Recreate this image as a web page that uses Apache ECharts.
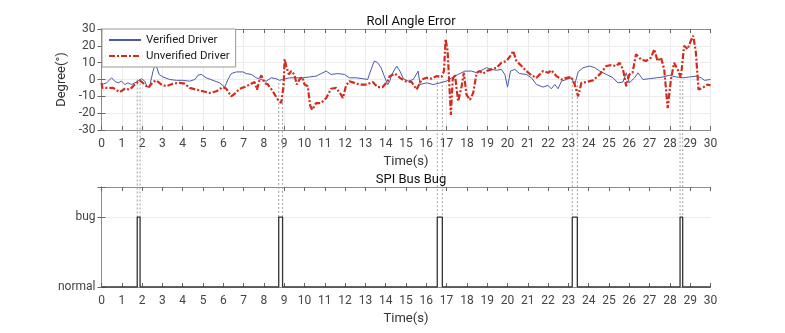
<!DOCTYPE html>
<html>
<head>
  <meta charset="UTF-8" />
  <title>Roll Angle Error / SPI Bus Bug</title>
  <script src="https://cdn.jsdelivr.net/npm/echarts@6/dist/echarts.min.js"></script>
  <style>
    html, body { margin: 0; height: 100%; background: #fff; }
    #chart { width: 785px; height: 333px; }
  </style>
</head>
<body>
  <div id="chart"></div>
  <script>
    // roll angle error, [time s, degree]
    const verified = [
      [0, -3], [0.25, -2], [0.5, 1], [0.65, -1], [0.82, -2], [0.98, -1], [1.15, -3], [1.3, -2],
      [1.48, -3], [1.72, -1.5], [1.97, 0.5], [2.13, -1], [2.25, -4.5], [2.38, -3.5], [2.54, 5],
      [2.66, 9.5], [2.74, 9], [2.84, 3], [3.03, 1.5], [3.36, 0], [3.69, -0.5], [4.0, -0.5],
      [4.34, -1], [4.6, 0], [4.75, 2.5], [4.92, 3], [5.16, 1], [5.49, -0.5], [5.82, -2],
      [6.07, -4.5], [6.23, 0], [6.39, 3.5], [6.64, 4.5], [6.97, 4.5], [7.13, 3.5], [7.38, 3],
      [7.62, 1], [7.87, 0], [8.11, -1], [8.36, 1], [8.6, 0.5], [8.77, -0.5], [8.93, 0],
      [9.26, 1], [9.59, 1], [9.92, 1], [10.25, 1.5], [10.57, 2], [10.82, 3.5], [11.07, 5],
      [11.31, 3], [11.64, 3.5], [11.97, 3], [12.21, 1], [12.54, 1], [12.87, 0.5], [13.11, 0],
      [13.28, 6], [13.44, 11], [13.6, 10], [13.77, 7], [13.93, 2], [14.1, -3], [14.2, -1],
      [14.3, 3], [14.54, 8], [14.7, 5], [14.87, 0.5], [15.11, -1], [15.36, 0], [15.6, 5],
      [15.69, -3], [16.02, -2], [16.34, -3], [16.67, -2], [17.0, -1], [17.25, 1], [17.57, 3],
      [17.9, 5], [18.23, 5], [18.48, 4], [18.72, 5.5], [18.97, 7], [19.21, 6], [19.46, 5.5],
      [19.7, 6], [19.87, 3], [20.0, -4.5], [20.15, 5], [20.36, 6], [20.6, 3.5], [20.93, 3],
      [21.18, 1], [21.43, -3], [21.75, -4.5], [22.0, -3.5], [22.16, -5.5], [22.33, -3],
      [22.49, -5.5], [22.66, -1], [22.9, 0], [23.15, 1], [23.31, -3], [23.48, 4.5], [23.72, 7],
      [24.05, 8], [24.3, 7], [24.54, 5], [24.87, 3], [25.2, 1], [25.44, -2], [25.69, -1.5],
      [25.85, 4], [26.0, -2], [26.26, 1], [26.43, 4], [26.67, 0], [27.0, 0.5], [27.33, 1],
      [27.66, 1.5], [27.98, 2.5], [28.31, 1.5], [28.64, 1], [28.97, 1.5], [29.3, 2], [29.54, 1],
      [29.7, -0.5], [30, 0]
    ];
    const unverified = [
      [0, -2], [0.05, -5], [0.25, -5], [0.57, -5], [0.9, -7.5], [1.15, -5.5], [1.39, -6],
      [1.64, -3], [1.89, -0.5], [2.13, -3], [2.3, -5], [2.54, -1.5], [2.7, -0.5], [2.95, -3],
      [3.2, -4], [3.52, -2.5], [3.85, -2], [4.1, -2.5], [4.34, -5], [4.67, -6], [5.0, -7],
      [5.33, -8], [5.66, -7], [5.98, -4.5], [6.15, -5.5], [6.39, -10], [6.56, -8.5], [6.8, -5.5],
      [7.05, -4.5], [7.3, -3], [7.54, -1.5], [7.66, -6], [7.79, 0], [7.87, 2.5], [8.03, -2],
      [8.2, -3], [8.44, -7], [8.69, -12], [8.85, -14], [8.97, -4], [9.02, 12], [9.1, 8],
      [9.23, 3], [9.34, 5], [9.5, 3], [9.62, -3], [9.75, 0], [9.89, 1.5], [10.0, -3],
      [10.16, -4], [10.28, -15.5], [10.38, -18], [10.57, -14], [10.82, -14], [11.07, -11],
      [11.31, -5.5], [11.56, -5], [11.8, -9], [11.89, -11], [12.05, -3.5], [12.21, -1],
      [12.46, -2], [12.7, -3], [13.03, -3], [13.36, -1.5], [13.6, -4.5], [13.85, -4.5],
      [14.1, -1], [14.2, 2], [14.46, 3.5], [14.7, 1], [14.95, -1], [15.28, -1.5], [15.52, -6],
      [15.77, 0], [16.02, 1], [16.26, 0.5], [16.5, 2], [16.75, 1.5], [16.87, 5], [16.95, 24],
      [17.05, 17], [17.13, 16], [17.21, -21], [17.3, 0], [17.41, 3], [17.57, -13], [17.74, -4],
      [17.85, 4], [17.98, -9], [18.15, -12], [18.31, -8], [18.48, 4], [18.64, 5], [18.8, 3.5],
      [18.97, 5], [19.21, 6], [19.46, 7], [19.7, 10], [19.95, 11], [20.2, 15], [20.28, 17],
      [20.44, 11], [20.69, 8], [20.93, 5], [21.18, 2.5], [21.43, 1], [21.75, 5], [22.0, 4],
      [22.16, 5.5], [22.41, 2], [22.66, 0], [22.9, 1], [23.15, 1.5], [23.31, -3], [23.48, -10],
      [23.64, -2], [23.89, -1.5], [24.21, -0.5], [24.54, 3], [24.87, 8], [25.11, 8.5],
      [25.36, 8], [25.52, 10], [25.69, 6], [25.85, -4], [26.0, 3], [26.16, 4], [26.33, 15],
      [26.57, 12], [26.82, 11], [27.07, 13], [27.23, 18], [27.39, 11], [27.56, 13], [27.72, 6],
      [27.89, -17], [28.05, 0], [28.21, 10], [28.38, 6], [28.54, 1], [28.7, 20], [28.87, 18],
      [29.03, 23], [29.15, 26], [29.28, 16], [29.41, -6], [29.61, -5], [29.85, -3], [30, -3.5]
    ];

    // SPI bus bug pulses (s)
    const bugStart = [1.76, 8.73, 16.54, 23.19, 28.5];
    const bugEnd = [1.9, 8.92, 16.79, 23.44, 28.63];
    // where the dashed guides begin in the upper plot (degree)
    const guideTop = [0, -2, -1, -1, -1];
    const stateNames = ['normal', 'bug'];

    const bugSignal = [[0, 0]];
    bugStart.forEach((s, i) => {
      bugSignal.push([s, 0], [s, 1], [bugEnd[i], 1], [bugEnd[i], 0]);
    });
    bugSignal.push([30, 0]);

    const chart = echarts.init(document.getElementById('chart'));
    const font = 'Roboto, sans-serif';
    const axisCol = '#8c8c8c';
    const gridCol = '#ebebeb';

    function timeAxis(grid, pos, labels) {
      return {
        type: 'value', gridIndex: grid, position: pos, min: 0, max: 30, interval: 1,
        axisLine: { onZero: false, lineStyle: { color: axisCol } },
        axisTick: { inside: true, length: 4, lineStyle: { color: '#666' } },
        axisLabel: { show: labels, color: '#444', fontSize: 12, fontFamily: font, margin: 8 },
        splitLine: { show: labels && grid === 0, lineStyle: { color: gridCol } },
        name: labels ? 'Time(s)' : '', nameLocation: 'middle', nameGap: 25,
        nameTextStyle: { color: '#333', fontSize: 13, fontFamily: font }
      };
    }

    chart.setOption({
      animation: false,
      backgroundColor: '#fff',
      title: [
        { text: 'Roll Angle Error', left: 406, top: 10, textAlign: 'center',
          textStyle: { fontSize: 13, fontWeight: 'normal', color: '#111', fontFamily: font } },
        { text: 'SPI Bus Bug', left: 406, top: 168, textAlign: 'center',
          textStyle: { fontSize: 13, fontWeight: 'normal', color: '#111', fontFamily: font } }
      ],
      legend: {
        left: 102, top: 29, orient: 'vertical',
        data: ['Verified Driver', 'Unverified Driver'],
        itemWidth: 32, itemHeight: 10, itemGap: 4,
        padding: [5, 6, 5, 6],
        itemStyle: { opacity: 0 },
        backgroundColor: '#fff', borderColor: '#999', borderWidth: 1,
        textStyle: { fontSize: 11.5, color: '#222', fontFamily: font }
      },
      grid: [
        { left: 101.5, top: 29, width: 609, height: 101 },
        { left: 101.5, top: 187, width: 609, height: 100 }
      ],
      xAxis: [
        timeAxis(0, 'bottom', true),
        timeAxis(0, 'top', false),
        timeAxis(1, 'bottom', true),
        timeAxis(1, 'top', false)
      ],
      yAxis: [
        { type: 'value', gridIndex: 0, position: 'left', min: -30, max: 30, interval: 10,
          axisLine: { show: true, lineStyle: { color: axisCol } },
          axisTick: { show: true, inside: true, length: 4, lineStyle: { color: '#666' } },
          axisLabel: { color: '#444', fontSize: 12, fontFamily: font, margin: 6 },
          splitLine: { lineStyle: { color: gridCol } },
          name: 'Degree(°)', nameLocation: 'middle', nameGap: 21, nameRotate: 90,
          nameTextStyle: { color: '#333', fontSize: 13, fontFamily: font } },
        { type: 'value', gridIndex: 0, position: 'right', min: -30, max: 30, interval: 10,
          axisLine: { show: true, lineStyle: { color: axisCol } },
          axisTick: { show: true, inside: true, length: 4, lineStyle: { color: '#666' } },
          axisLabel: { show: false }, splitLine: { show: false } },
        { type: 'value', gridIndex: 1, position: 'left', min: 0, max: 1.43, interval: 1,
          axisLine: { show: true, lineStyle: { color: axisCol } },
          axisTick: { show: true, inside: true, length: 4, lineStyle: { color: '#666' } },
          axisLabel: { color: '#444', fontSize: 12, fontFamily: font, margin: 6,
            formatter: v => stateNames[v] || '' },
          splitLine: { lineStyle: { color: gridCol } } },
        { type: 'value', gridIndex: 1, position: 'right', min: 0, max: 1.43, interval: 1,
          axisLine: { show: true, lineStyle: { color: axisCol } },
          axisTick: { show: true, inside: true, length: 4, lineStyle: { color: '#666' } },
          axisLabel: { show: false }, splitLine: { show: false } }
      ],
      series: [
        { name: 'Verified Driver', type: 'line', xAxisIndex: 0, yAxisIndex: 0,
          data: verified, symbol: 'none', z: 3,
          lineStyle: { color: '#4a5aa8', width: 1 }, itemStyle: { color: '#4a5aa8' } },
        { name: 'Unverified Driver', type: 'line', xAxisIndex: 0, yAxisIndex: 0,
          data: unverified, symbol: 'none', z: 4,
          lineStyle: { color: '#d42b1c', width: 2.2, type: [6, 2, 2, 2] }, itemStyle: { color: '#d42b1c' } },
        { name: 'bug', type: 'line', xAxisIndex: 2, yAxisIndex: 2,
          data: bugSignal, symbol: 'none',
          lineStyle: { color: '#333', width: 1.3 } }
      ]
    });

    // dotted guides from the roll curve down to the bug pulse edges
    const guides = [];
    bugStart.forEach((s, i) => {
      [s, bugEnd[i]].forEach(t => {
        const a = chart.convertToPixel({ gridIndex: 0 }, [t, guideTop[i]]);
        const b = chart.convertToPixel({ gridIndex: 1 }, [t, 1]);
        guides.push({
          type: 'line', silent: true, z: 1,
          shape: { x1: a[0], y1: a[1], x2: b[0], y2: b[1] },
          style: { stroke: '#a0a0a0', lineWidth: 1, lineDash: [2, 2] }
        });
      });
    });
    chart.setOption({ graphic: guides });
  </script>
</body>
</html>
